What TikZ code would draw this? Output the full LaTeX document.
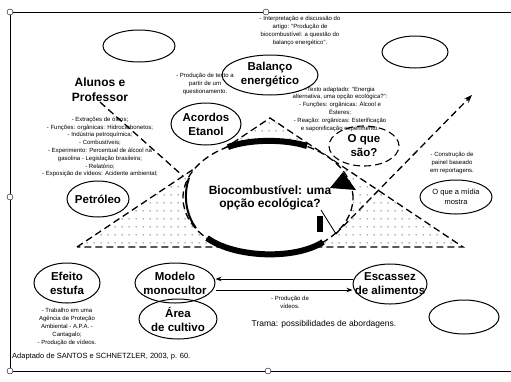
\documentclass[tikz,border=0pt]{standalone}
\usepackage{fontspec}
\setmainfont{Liberation Sans}
\usetikzlibrary{shapes.geometric,arrows.meta,patterns.meta}

\tikzdeclarepattern{
    name=pontos,
    type=uncolored,
    bounding box={(0pt,0pt) and (7pt,8pt)},
    tile size={(7pt,8pt)},
    code={\fill (3pt,3pt) rectangle (4pt,4pt);}
}

\tikzset{
    oval/.style 2 args={draw, ellipse, line width=1pt, inner sep=0pt,
        minimum width=#1, minimum height=#2},
    rotulo/.style={font=\bfseries\fontsize{11.5}{14}\selectfont, align=center, inner sep=0pt},
    nota/.style={font=\fontsize{6}{7.8}\selectfont, align=center, inner sep=0pt},
    trama/.style={line width=1.3pt, dash pattern=on 7pt off 4pt},
    alca/.style={draw, circle, fill=white, inner sep=0pt, minimum size=6pt}
}

\begin{document}
\begin{tikzpicture}[x=1pt, y=-1pt]
    \useasboundingbox (0,0) rectangle (511,381);

    \draw[line width=0.8pt] (511,12) -- (10,12) -- (10,371) -- (511,371);

    % pyramid of the trama
    \coordinate (topo) at (270,118);
    \coordinate (baseE) at (77,247);
    \coordinate (baseD) at (463,247);
    \coordinate (encontro) at (183,176);
    \coordinate (ponta) at (472,95);

    \fill[pattern=pontos, pattern color=black!70] (baseE) -- (topo) -- (baseD) -- cycle;
    \draw[trama] (baseE) -- (topo) -- (baseD) -- cycle;

    \node[rotulo, font=\bfseries\fontsize{12}{15}\selectfont] (alunos) at (100,90) {Alunos e\\Professor};
    \draw[trama] (alunos.south) -- (encontro);

    % central circle
    \node[draw, ellipse, fill=white, trama, minimum width=170, minimum height=116] (circulo) at (268,198) {};
    \draw[line width=6pt] (228,147) .. controls (250,139) and (285,139) .. (307,146);
    \draw[line width=6pt] (207,238) .. controls (235,258) and (295,260) .. (323,242);
    \draw[line width=2pt] (189,178) .. controls (183,195) and (186,215) .. (196,228);
    \fill (330,188) -- (343,172) -- (356,190) -- cycle;
    \fill (317,216) rectangle (323,232);
    \draw[line width=0.8pt] (321,210) -- (336,234);
    \node[rotulo, font=\bfseries\fontsize{12}{13.5}\selectfont] (bio) at (270,198) {Biocombustível: uma\\opção ecológica?};

    \draw[trama, -{Stealth[length=8pt, width=6pt]}] (circulo.-28) -- (ponta);

    % themes
    \node[oval={72}{32}] (vazioA) at (139,46) {};
    \node[oval={66}{32}] (vazioB) at (415,52) {};
    \node[oval={70}{34}] (vazioC) at (464,317) {};

    \node[oval={96}{40}, label={[rotulo]center:Balanço\\energético}] (balanco) at (270,75) {};
    \node[oval={70}{42}, label={[rotulo]center:Acordos\\Etanol}] (acordos) at (206,124) {};
    \node[oval={62}{36}, label={[rotulo]center:Petróleo}] (petroleo) at (98,199) {};
    \node[oval={70}{40}, trama, line width=1.1pt, label={[rotulo]center:O que\\são?}] (oque) at (364,146) {};
    \node[oval={72}{34}, label={[nota, font=\fontsize{7.5}{10}\selectfont]center:O que a mídia\\mostra}] (midia) at (456,197) {};
    \node[oval={66}{40}, label={[rotulo]center:Efeito\\estufa}] (efeito) at (67,283) {};
    \node[oval={80}{40}, label={[rotulo]center:Modelo\\monocultor}] (modelo) at (175,283) {};
    \node[oval={78}{40}, label={[rotulo]center:Área\\de cultivo}] (area) at (178,319) {};
    \node[oval={74}{40}, label={[rotulo]center:Escassez\\de alimentos}] (escassez) at (390,284) {};

    \draw[line width=1pt, -{Stealth[length=6pt]}] (escassez.west |- 0,279) -- (modelo.east |- 0,279);
    \draw[line width=1pt, -{Stealth[length=6pt]}] (modelo.east |- 0,290) -- (escassez.west |- 0,290);

    % notes
    \node[nota] (notaTopo) at (300,31) {- Interpretação e discussão do\\artigo: “Produção de\\biocombustível: a questão do\\balanço energético”.};
    \node[nota] (notaAcordos) at (205,84) {- Produção de texto a\\partir de um\\questionamento.};
    \node[nota] (notaAlunos) at (100,147) {- Extrações de óleos;\\- Funções: orgânicas: Hidrocarbonetos;\\- Indústria petroquímica;\\- Combustíveis;\\- Experimento: Percentual de álcool na\\gasolina - Legislação brasileira;\\- Relatório;\\- Exposição de vídeos: Acidente ambiental;};
    \node[nota] (notaTexto) at (340,109) {-Texto adaptado: “Energia\\alternativa, uma opção ecológica?”:\\- Funções: orgânicas: Álcool e\\Ésteres;\\- Reação: orgânicas: Esterificação\\e saponificação experimento.};
    \node[nota] (notaMidia) at (452,163) {- Construção de\\painel baseado\\em reportagens.};
    \node[nota] (notaEfeito) at (67,327) {- Trabalho em uma\\Agência de Proteção\\Ambiental - A.P.A. -\\Cantagalo;\\- Produção de vídeos.};
    \node[nota] (notaEscassez) at (290,302) {- Produção de\\vídeos.};

    \node[font=\fontsize{8.5}{10}\selectfont] (titulo) at (324,324) {Trama: possibilidades de abordagens.};
    \node[font=\fontsize{7.5}{9}\selectfont, anchor=west, inner sep=0pt] (fonte) at (12,357) {Adaptado de SANTOS e SCHNETZLER, 2003, p. 60.};

    \foreach \p [count=\i] in {(10,12),(266,12),(10,197),(10,371),(268,371)}
        \node[alca] (alca\i) at \p {};
\end{tikzpicture}
\end{document}
